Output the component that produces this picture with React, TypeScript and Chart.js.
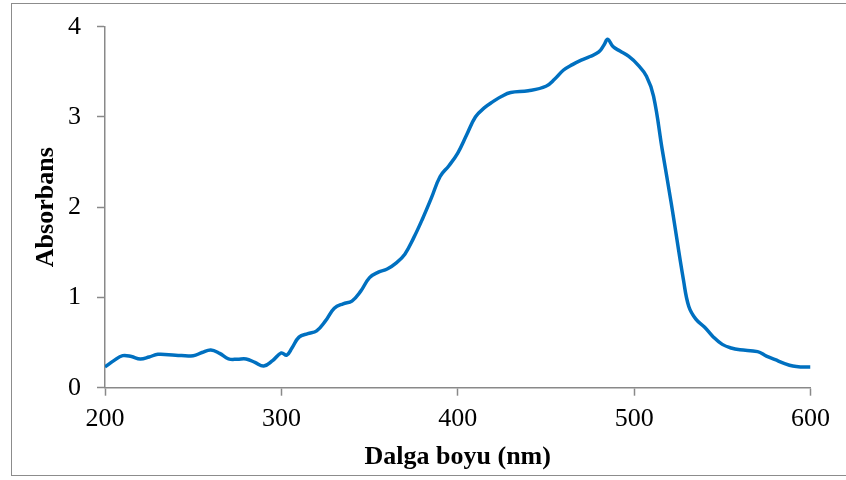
import React, { useEffect, useRef } from "react";
import { Chart, registerables } from "chart.js";

Chart.register(...registerables);

const wavelengths = [
  200, 205, 210, 215, 220, 225, 230, 240, 250, 255, 260, 265, 270, 275, 280, 285, 290, 295,
  300, 303, 306, 310, 315, 320, 325, 330, 335, 340, 345, 350, 355, 360, 365, 370, 375, 380,
  385, 390, 395, 400, 405, 410, 415, 420, 425, 430, 440, 450, 455, 460, 465, 470, 475, 480,
  483, 485, 488, 492, 497, 502, 507, 511, 516, 521, 528, 531, 535, 540, 545, 550,
  555, 560, 570, 575, 580, 585, 590, 595, 600,
];

const absorbance = [
  0.23, 0.3, 0.355, 0.345, 0.318, 0.34, 0.37, 0.36, 0.355, 0.39, 0.418, 0.38, 0.32, 0.315, 0.318, 0.28, 0.24, 0.3,
  0.385, 0.36, 0.44, 0.56, 0.6, 0.63, 0.74, 0.88, 0.93, 0.96, 1.07, 1.22, 1.28, 1.315, 1.38, 1.48, 1.66, 1.87,
  2.1, 2.34, 2.46, 2.6, 2.8, 3.0, 3.1, 3.17, 3.23, 3.27, 3.29, 3.34, 3.42, 3.52, 3.58, 3.63, 3.67, 3.72,
  3.8, 3.86, 3.78, 3.73, 3.67, 3.58, 3.45, 3.23, 2.63, 2.05, 1.19, 0.9, 0.76, 0.67, 0.56, 0.48,
  0.44, 0.42, 0.4, 0.35, 0.31, 0.27, 0.24, 0.23, 0.23,
];

const xTitle = "Dalga boyu (nm)";
const yTitle = "Absorbans";

export default function App() {
  const ref = useRef<HTMLCanvasElement | null>(null);

  useEffect(() => {
    if (!ref.current) return;
    const axisColor = "#898989";
    const fontFamily = "'Liberation Serif', 'Times New Roman', serif";
    const chart = new Chart(ref.current, {
      type: "line",
      data: {
        datasets: [
          {
            data: wavelengths.map((w, i) => ({ x: w, y: absorbance[i] })),
            borderColor: "#0070C0",
            borderWidth: 3.5,
            pointRadius: 0,
            tension: 0.4,
            fill: false,
          },
        ],
      },
      options: {
        animation: false,
        responsive: false,
        maintainAspectRatio: false,
        layout: { padding: { top: 26.7, right: 35.5, left: 0, bottom: 0 } },
        plugins: { legend: { display: false }, tooltip: { enabled: false } },
        scales: {
          x: {
            type: "linear",
            min: 200,
            max: 600,
            ticks: {
              stepSize: 100,
              color: "#000",
              padding: 8,
              font: { family: fontFamily, size: 26 },
            },
            grid: {
              drawOnChartArea: false,
              drawTicks: true,
              tickLength: 8,
              tickColor: axisColor,
              tickWidth: 1.5,
            },
            border: { display: true, color: axisColor, width: 1.5 },
            title: {
              display: true,
              text: xTitle,
              color: "#000",
              font: { family: fontFamily, size: 26, weight: "bold" },
              padding: { top: 0, bottom: 7.4 },
            },
            afterFit: (s: any) => {
              s.height = 92.3;
              s.paddingLeft = 0;
              s.paddingRight = 0;
            },
          },
          y: {
            type: "linear",
            min: 0,
            max: 4,
            ticks: {
              stepSize: 1,
              color: "#000",
              padding: 16,
              font: { family: fontFamily, size: 26 },
            },
            grid: {
              drawOnChartArea: false,
              drawTicks: true,
              tickLength: 8,
              tickColor: axisColor,
              tickWidth: 1.5,
            },
            border: { display: true, color: axisColor, width: 1.5 },
            title: {
              display: true,
              text: yTitle,
              color: "#000",
              font: { family: fontFamily, size: 26, weight: "bold" },
              padding: { top: 30.4, bottom: 0 },
            },
            afterFit: (s: any) => {
              s.width = 105;
              s.paddingTop = 0;
              s.paddingBottom = 0;
            },
          },
        },
      },
    });
    return () => chart.destroy();
  }, []);

  return (
    <div
      style={{
        position: "fixed",
        left: 0,
        top: 0,
        width: 846,
        height: 480,
        overflow: "hidden",
        background: "#fff",
      }}
    >
      <div
        style={{
          position: "absolute",
          left: 11,
          top: 3,
          width: 860,
          height: 471,
          border: "1px solid #8c8c8c",
        }}
      />
      <canvas
        ref={ref}
        width={846}
        height={480}
        style={{ position: "absolute", left: 0, top: 0, width: 846, height: 480 }}
      />
    </div>
  );
}
